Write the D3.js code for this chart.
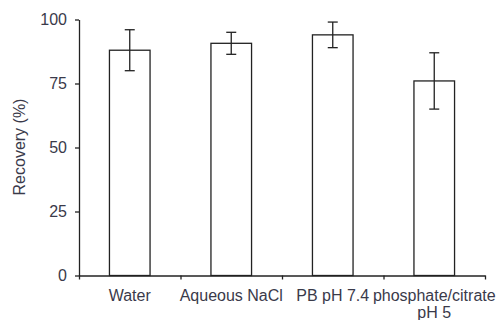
<!DOCTYPE html>
<html>
<head>
<meta charset="utf-8">
<script src="https://cdn.jsdelivr.net/npm/d3@7"></script>
<style>
  body { margin: 0; background: #fff; }
  svg text { font-family: "Liberation Sans", Arial, sans-serif; font-size: 16px; fill: #3a3a4a; }
</style>
</head>
<body>
<div id="chart"></div>
<script>
// data
const categories = ['Water', 'Aqueous NaCl', 'PB pH 7.4', 'phosphate/citrate\npH 5'];
const recovery = [88, 90.7, 94, 76];
const errors = [8, 4.3, 5, 11];
const yTicks = [0, 25, 50, 75, 100];

const width = 499, height = 320;
const margin = { top: 19.5, right: 14, bottom: 44.5, left: 79 };
const innerW = width - margin.left - margin.right;
const innerH = height - margin.top - margin.bottom;
const ink = '#222';

const svg = d3.select('#chart')
    .append('svg')
    .attr('width', width)
    .attr('height', height);

const g = svg.append('g')
    .attr('transform', `translate(${margin.left},${margin.top})`);

const x = d3.scaleBand()
    .domain(d3.range(categories.length))
    .range([0, innerW])
    .padding(0);

const y = d3.scaleLinear()
    .domain([0, 100])
    .range([innerH, 0]);

// boundaries between categories carry the x ticks
const xb = d3.scaleLinear()
    .domain([0, categories.length])
    .range([0, innerW]);

const barW = x.bandwidth() * 0.4;

// bars
g.selectAll('.bar')
    .data(recovery)
    .join('rect')
    .attr('class', 'bar')
    .attr('x', (d, i) => x(i) + (x.bandwidth() - barW) / 2)
    .attr('y', d => y(d))
    .attr('width', barW)
    .attr('height', d => y(0) - y(d))
    .attr('fill', '#fff')
    .attr('stroke', ink)
    .attr('stroke-width', 1.3);

// error bars
const capW = 10;
const err = g.selectAll('.err')
    .data(recovery)
    .join('g')
    .attr('class', 'err')
    .attr('stroke', ink)
    .attr('stroke-width', 1.3);

err.append('line')
    .attr('x1', (d, i) => x(i) + x.bandwidth() / 2)
    .attr('x2', (d, i) => x(i) + x.bandwidth() / 2)
    .attr('y1', (d, i) => y(d + errors[i]))
    .attr('y2', (d, i) => y(d - errors[i]));

err.append('line')
    .attr('x1', (d, i) => x(i) + x.bandwidth() / 2 - capW / 2)
    .attr('x2', (d, i) => x(i) + x.bandwidth() / 2 + capW / 2)
    .attr('y1', (d, i) => y(d + errors[i]))
    .attr('y2', (d, i) => y(d + errors[i]));

err.append('line')
    .attr('x1', (d, i) => x(i) + x.bandwidth() / 2 - capW / 2)
    .attr('x2', (d, i) => x(i) + x.bandwidth() / 2 + capW / 2)
    .attr('y1', (d, i) => y(d - errors[i]))
    .attr('y2', (d, i) => y(d - errors[i]));

// y axis
const yAxis = g.append('g')
    .call(d3.axisLeft(y).tickValues(yTicks).tickSize(4).tickSizeOuter(0).tickPadding(8));

// x axis
const xAxis = g.append('g')
    .attr('transform', `translate(0,${innerH})`)
    .call(d3.axisBottom(xb).tickValues(d3.range(categories.length + 1)).tickFormat('').tickSize(4).tickSizeOuter(0));

[yAxis, xAxis].forEach(a => {
    a.selectAll('path, line').attr('stroke', ink).attr('stroke-width', 1.3);
    a.selectAll('text').attr('font-size', null).attr('font-family', null).attr('fill', null);
});

// category labels, wrapped on \n
const labels = g.selectAll('.xlab')
    .data(categories)
    .join('text')
    .attr('class', 'xlab')
    .attr('text-anchor', 'middle')
    .attr('y', innerH + 25.5);

labels.selectAll('tspan')
    .data((d, i) => d.split('\n').map(t => ({ t, i })))
    .join('tspan')
    .attr('x', d => x(d.i) + x.bandwidth() / 2)
    .attr('dy', (d, j) => j === 0 ? 0 : 17)
    .text(d => d.t);

// y title
svg.append('text')
    .attr('transform', `translate(24.5,${margin.top + innerH / 2 - 0.5}) rotate(-90)`)
    .attr('text-anchor', 'middle')
    .text('Recovery (%)');
</script>
</body>
</html>
